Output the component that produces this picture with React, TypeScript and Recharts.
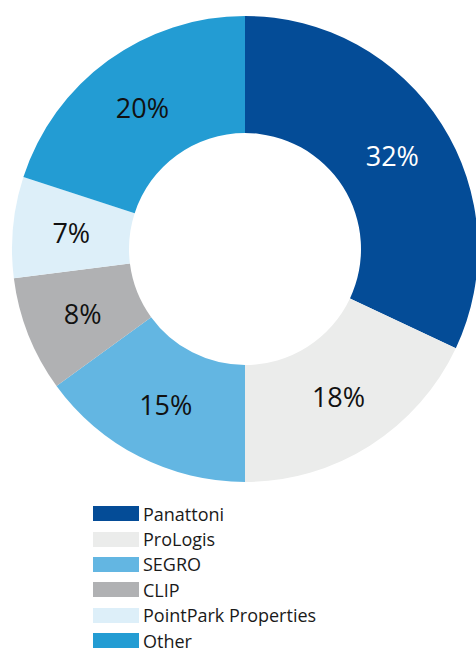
import { PieChart, Pie, Cell, Legend } from 'recharts'

const NAMES = ['Panattoni', 'ProLogis', 'SEGRO', 'CLIP', 'PointPark Properties', 'Other']
const SHARES = [32, 18, 15, 8, 7, 20]
const COLORS = ['#044c97', '#ebeceb', '#63b6e2', '#b0b1b3', '#ddeff9', '#239cd3']
const LABEL_COLORS = ['#ffffff', '#111111', '#111111', '#111111', '#111111', '#111111']

const FONT = '"Open Sans", "Noto Sans", sans-serif'
const RAD = Math.PI / 180

const data = NAMES.map((name, i) => ({ name, value: SHARES[i] }))

function renderLabel(props: any) {
  const { cx, cy, midAngle, innerRadius, outerRadius, index, value } = props
  const r = (innerRadius + outerRadius) / 2
  const x = cx + r * Math.cos(-midAngle * RAD)
  const y = cy + r * Math.sin(-midAngle * RAD)
  return (
    <text
      x={x}
      y={y}
      fill={LABEL_COLORS[index]}
      textAnchor="middle"
      dominantBaseline="central"
      fontFamily={FONT}
      fontSize={27}
    >
      {`${value}%`}
    </text>
  )
}

function LegendBox() {
  return (
    <div style={{ fontFamily: FONT }}>
      {NAMES.map((n, i) => (
        <div key={n} style={{ display: 'flex', alignItems: 'center', height: 25.4 }}>
          <span style={{ width: 46, height: 15, background: COLORS[i], marginRight: 4, flex: 'none' }} />
          <span style={{ fontSize: 18, color: '#1a1a1a', lineHeight: '20px' }}>{n}</span>
        </div>
      ))}
    </div>
  )
}

export default function App() {
  return (
    <div style={{ width: 476, height: 648, background: '#fff', overflow: 'hidden', position: 'relative' }}>
      <style>{`body{margin:0}`}</style>
      <PieChart width={476} height={648} margin={{ top: 0, right: 0, bottom: 0, left: 0 }}>
        <Pie
          data={data}
          dataKey="value"
          nameKey="name"
          cx={245}
          cy={249}
          innerRadius={116}
          outerRadius={233}
          startAngle={90}
          endAngle={-270}
          stroke="none"
          label={renderLabel}
          labelLine={false}
          isAnimationActive={false}
        >
          {data.map((_, i) => (
            <Cell key={i} fill={COLORS[i]} />
          ))}
        </Pie>
        <Legend
          content={() => <LegendBox />}
          wrapperStyle={{ position: 'absolute', left: 93, top: 501, width: 300 }}
        />
      </PieChart>
    </div>
  )
}
